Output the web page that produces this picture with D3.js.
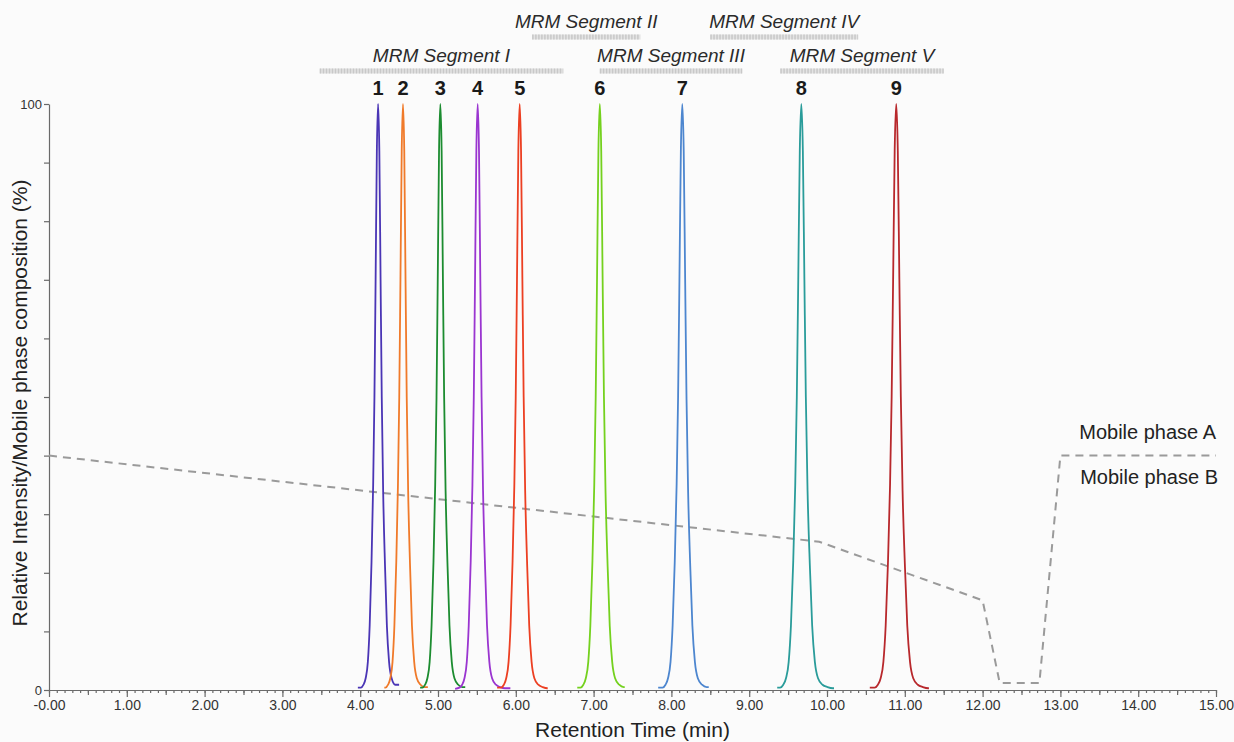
<!DOCTYPE html>
<html lang="en">
    <head>
        <meta charset="utf-8">
        <title>MRM chromatogram</title>
        <script src="https://d3js.org/d3.v7.min.js" charset="utf-8"></script>
        <style>
            body {
              margin: 0;
              background: #fbfbfb;
              font-family: "Liberation Sans", Arial, sans-serif;
            }
            .axis text {
              font-family: "Liberation Sans", Arial, sans-serif;
              fill: #333;
            }
            .axis path, .axis line {
              stroke: #6a6a6a;
            }
        </style>
    </head>
    <body>
        <div id="chart"></div>
        <script type="text/javascript">
            // peaks (retention time in min, relative intensity in %)
            var peakLabels = ["1", "2", "3", "4", "5", "6", "7", "8", "9"];
            var peakTimes = [4.23, 4.55, 5.03, 5.51, 6.05, 7.08, 8.14, 9.67, 10.89];
            var peakHeights = [100, 100, 100, 100, 100, 100, 100, 100, 100];
            var peakHalfWidths = [0.047, 0.048, 0.049, 0.050, 0.051, 0.053, 0.054, 0.058, 0.059];
            var traceStart = [3.97, 4.31, 4.77, 5.22, 5.76, 6.79, 7.83, 9.36, 10.55];
            var traceEnd = [4.50, 4.87, 5.35, 5.93, 6.41, 7.40, 8.48, 10.09, 11.31];
            var peakColors = ["#4a35b5", "#f07a2a", "#1c8c30", "#9a35d0", "#ec3f22",
                              "#74d11e", "#4d86cf", "#2a9c9a", "#b8282c"];

            var profileOffsets = [-5.8, -4.7, -4.0, -3.4, -2.8, -2.3, -1.8, -1.35, -1.0, -0.68, -0.34, 0,
                                  0.34, 0.68, 1.0, 1.38, 1.9, 2.4, 3.0, 3.7, 4.7, 5.8, 7.0];
            var profileValues = [0.2, 0.4, 0.9, 2, 4.8, 11, 21.8, 35, 50, 70, 92, 100,
                                 92, 70, 50, 34, 21, 11, 4.8, 2, 0.9, 0.5, 0.3];

            // mobile phase gradient
            var gradientTimes = [0, 9.9, 12.0, 12.22, 12.73, 13.0, 15.0];
            var gradientValues = [40, 25.3, 15.3, 1.2, 1.2, 40, 40];

            // MRM segments
            var segmentNames = ["MRM Segment I", "MRM Segment II", "MRM Segment III", "MRM Segment IV", "MRM Segment V"];
            var segmentStart = [3.48, 6.21, 7.08, 8.50, 9.40];
            var segmentEnd = [6.61, 7.60, 8.91, 10.40, 11.50];
            var segmentRow = [0, 1, 0, 1, 0];

            // axis ticks
            var xTickValues = [0, 1, 2, 3, 4, 5, 6, 7, 8, 9, 10, 11, 12, 13, 14, 15];
            var xTickLabels = ["-0.00", "1.00", "2.00", "3.00", "4.00", "5.00", "6.00", "7.00",
                               "8.00", "9.00", "10.00", "11.00", "12.00", "13.00", "14.00", "15.00"];
            var yTickValues = [0, 10, 20, 30, 40, 50, 60, 70, 80, 90, 100];
            var yTickLabels = ["0", "", "", "", "", "", "", "", "", "", "100"];

            var margin = {top: 104, right: 18, bottom: 52, left: 49};
            var width = 1234 - margin.left - margin.right,
                height = 742 - margin.top - margin.bottom;

            var svg = d3.select("#chart").append("svg")
                .attr("width", 1234)
                .attr("height", 742)
                .style("display", "block");

            svg.append("rect")
                .attr("width", 1234)
                .attr("height", 742)
                .attr("fill", "#fbfbfb");

            var g = svg.append("g")
                .attr("transform", "translate(" + margin.left + "," + margin.top + ")");

            var xScale = d3.scaleLinear().domain([0, 15]).range([0, width]);
            var yScale = d3.scaleLinear().domain([0, 100]).range([height, 0]);

            // x axis: minor (0.1), half (0.5) and major ticks
            var minorTicks = d3.range(0, 151).map(function(i) { return i / 10; });
            var halfTicks = d3.range(0, 15).map(function(i) { return i + 0.5; });

            g.append("g")
                .attr("class", "axis")
                .attr("transform", "translate(0," + height + ")")
                .call(d3.axisBottom(xScale).tickValues(minorTicks).tickSize(3).tickFormat(""))
                .call(function(s) { s.select(".domain").remove(); });

            g.append("g")
                .attr("class", "axis")
                .attr("transform", "translate(0," + height + ")")
                .call(d3.axisBottom(xScale).tickValues(halfTicks).tickSize(5).tickFormat(""))
                .call(function(s) { s.select(".domain").remove(); });

            g.append("g")
                .attr("class", "axis")
                .attr("transform", "translate(0," + height + ")")
                .call(d3.axisBottom(xScale).tickValues(xTickValues).tickSize(7).tickPadding(3)
                    .tickSizeOuter(0)
                    .tickFormat(function(d, i) { return xTickLabels[i]; }))
                .selectAll("text")
                .style("font-size", "14px");

            g.append("g")
                .attr("class", "axis")
                .call(d3.axisLeft(yScale).tickValues(yTickValues).tickSize(5).tickPadding(2)
                    .tickSizeOuter(0)
                    .tickFormat(function(d, i) { return yTickLabels[i]; }))
                .selectAll("text")
                .style("font-size", "13px");

            g.selectAll(".axis path, .axis line").attr("stroke-width", 1.2);

            // axis titles
            svg.append("text")
                .attr("x", margin.left + width / 2)
                .attr("y", 737)
                .attr("text-anchor", "middle")
                .style("font-size", "21px")
                .style("fill", "#222")
                .text("Retention Time (min)");

            svg.append("text")
                .attr("transform", "translate(27," + 403 + ") rotate(-90)")
                .attr("text-anchor", "middle")
                .style("font-size", "21px")
                .style("fill", "#222")
                .text("Relative Intensity/Mobile phase composition (%)");

            // mobile phase gradient (dashed)
            var gradientData = gradientTimes.map(function(t, i) { return [t, gradientValues[i]]; });
            g.append("path")
                .datum(gradientData)
                .attr("fill", "none")
                .attr("stroke", "#9a9a9a")
                .attr("stroke-width", 2)
                .attr("stroke-dasharray", "8,6")
                .attr("d", d3.line()
                    .x(function(d) { return xScale(d[0]); })
                    .y(function(d) { return yScale(d[1]); }));

            svg.append("text")
                .attr("x", 1216)
                .attr("y", 439)
                .attr("text-anchor", "end")
                .style("font-size", "20px")
                .style("fill", "#222")
                .text("Mobile phase A");

            svg.append("text")
                .attr("x", 1218)
                .attr("y", 484)
                .attr("text-anchor", "end")
                .style("font-size", "20px")
                .style("fill", "#222")
                .text("Mobile phase B");

            // peaks
            function peakPoints(i) {
                var pts = [];
                profileOffsets.forEach(function(u, k) {
                    var t = peakTimes[i] + u * peakHalfWidths[i];
                    if (t >= traceStart[i] && t <= traceEnd[i]) {
                        pts.push([t, profileValues[k] * peakHeights[i] / 100]);
                    }
                });
                if (pts[0][0] > traceStart[i]) pts.unshift([traceStart[i], pts[0][1]]);
                if (pts[pts.length - 1][0] < traceEnd[i]) pts.push([traceEnd[i], pts[pts.length - 1][1]]);
                return pts;
            }

            var peakLine = d3.line()
                .curve(d3.curveMonotoneX)
                .x(function(d) { return xScale(d[0]); })
                .y(function(d) { return yScale(d[1]); });

            g.selectAll(".peak")
                .data(peakLabels)
                .enter()
                .append("path")
                .attr("class", "peak")
                .attr("fill", "none")
                .attr("stroke", function(d, i) { return peakColors[i]; })
                .attr("stroke-width", 1.8)
                .attr("d", function(d, i) { return peakLine(peakPoints(i)); });

            g.selectAll(".peakLabel")
                .data(peakLabels)
                .enter()
                .append("text")
                .attr("class", "peakLabel")
                .attr("x", function(d, i) { return xScale(peakTimes[i]); })
                .attr("y", -9)
                .attr("text-anchor", "middle")
                .style("font-size", "20px")
                .style("font-weight", "bold")
                .style("fill", "#1a1a1a")
                .text(function(d) { return d; });

            // MRM segment bars
            var rowY = [-33, -67];
            var seg = g.selectAll(".segment")
                .data(segmentNames)
                .enter()
                .append("g")
                .attr("class", "segment");

            seg.append("rect")
                .attr("x", function(d, i) { return xScale(segmentStart[i]); })
                .attr("y", function(d, i) { return rowY[segmentRow[i]] - 2.5; })
                .attr("width", function(d, i) { return xScale(segmentEnd[i]) - xScale(segmentStart[i]); })
                .attr("height", 5)
                .attr("fill", "#e4e4e4");

            seg.append("line")
                .attr("x1", function(d, i) { return xScale(segmentStart[i]); })
                .attr("x2", function(d, i) { return xScale(segmentEnd[i]); })
                .attr("y1", function(d, i) { return rowY[segmentRow[i]]; })
                .attr("y2", function(d, i) { return rowY[segmentRow[i]]; })
                .attr("stroke", "#c8c8c8")
                .attr("stroke-width", 5)
                .attr("stroke-dasharray", "1.5,1.5");

            seg.append("text")
                .attr("x", function(d, i) { return (xScale(segmentStart[i]) + xScale(segmentEnd[i])) / 2; })
                .attr("y", function(d, i) { return rowY[segmentRow[i]] - 9; })
                .attr("text-anchor", "middle")
                .style("font-size", "19px")
                .style("font-style", "italic")
                .style("fill", "#2a2a2a")
                .text(function(d) { return d; });
        </script>
    </body>
</html>
